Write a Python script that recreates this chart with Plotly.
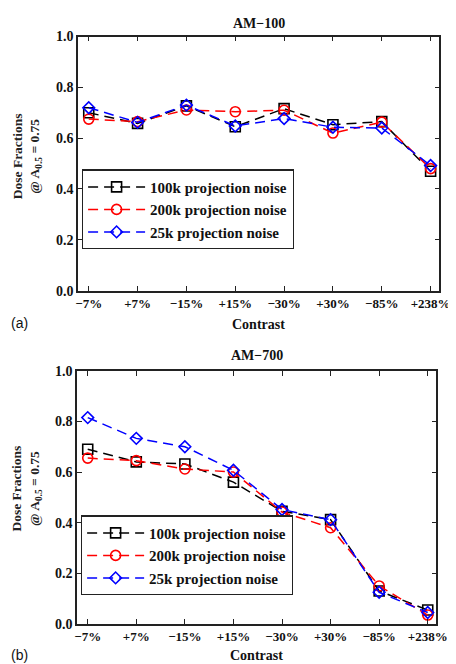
import plotly.graph_objects as go

categories = ["−7%", "+7%", "−15%", "+15%", "−30%", "+30%", "−85%", "+238%"]
series_names = ["100k projection noise", "200k projection noise", "25k projection noise"]

am100_100k = [0.70, 0.658, 0.727, 0.645, 0.716, 0.653, 0.665, 0.470]
am100_200k = [0.675, 0.665, 0.711, 0.704, 0.71, 0.620, 0.663, 0.480]
am100_25k = [0.720, 0.662, 0.730, 0.648, 0.677, 0.643, 0.640, 0.492]

am700_100k = [0.690, 0.640, 0.632, 0.560, 0.445, 0.412, 0.130, 0.055]
am700_200k = [0.655, 0.645, 0.612, 0.600, 0.442, 0.380, 0.150, 0.035]
am700_25k = [0.815, 0.733, 0.700, 0.607, 0.452, 0.412, 0.125, 0.045]

yticks = [0.0, 0.2, 0.4, 0.6, 0.8, 1.0]
ytick_text = ["0.0", "0.2", "0.4", "0.6", "0.8", "1.0"]

colors = ["black", "red", "blue"]
symbols = ["square-open", "circle-open", "diamond-open"]
sizes = [10, 10, 9]

W, H = 456, 664
FONT = "Liberation Serif, Times New Roman, serif"

def px(x):
    return x / W

def py(y):
    return 1 - y / H

fig = go.Figure()

panels = [
    ("x", "y", "legend", [am100_100k, am100_200k, am100_25k]),
    ("x2", "y2", "legend2", [am700_100k, am700_200k, am700_25k]),
]

for xa, ya, lg, data in panels:
    for i, vals in enumerate(data):
        fig.add_trace(go.Scatter(
            x=list(range(len(categories))), y=vals,
            xaxis=xa, yaxis=ya, legend=lg,
            mode="lines+markers", name="<b>" + series_names[i] + "</b>",
            line=dict(color=colors[i], width=1.5, dash="10px,6px"),
            marker=dict(symbol=symbols[i], size=sizes[i], color=colors[i],
                        line=dict(width=1.6, color=colors[i])),
        ))

axis_common = dict(
    showline=True, linecolor="#222", linewidth=1.5, mirror="ticks",
    ticks="inside", ticklen=5, tickwidth=1.2, tickcolor="#222",
    showgrid=False, zeroline=False,
    tickfont=dict(family=FONT, size=14, color="#111"),
)

xaxis_common = dict(axis_common, tickmode="array",
                    tickvals=list(range(len(categories))),
                    ticktext=["<b>" + c + "</b>" for c in categories],
                    range=[-0.22, 7.18])
xaxis_common["tickfont"] = dict(family=FONT, size=13, color="#111")
yaxis_common = dict(axis_common, tickmode="array", tickvals=yticks,
                    ticktext=["<b>" + t + "</b>" for t in ytick_text], range=[0, 1.0])

legend_common = dict(
    bgcolor="white", bordercolor="#222", borderwidth=1.2,
    font=dict(family=FONT, size=15, color="#111"),
    xanchor="left", yanchor="top", itemwidth=57, tracegroupgap=0,
)

fig.update_layout(
    width=W, height=H,
    margin=dict(l=0, r=0, t=0, b=0),
    plot_bgcolor="white", paper_bgcolor="white",
    xaxis=dict(xaxis_common, domain=[px(70), px(442)], anchor="y"),
    yaxis=dict(yaxis_common, domain=[py(282), py(22)], anchor="x"),
    xaxis2=dict(xaxis_common, domain=[px(69), px(439)], anchor="y2"),
    yaxis2=dict(yaxis_common, domain=[py(623), py(364)], anchor="x2"),
    legend=dict(legend_common, x=px(74), y=py(158)),
    legend2=dict(legend_common, x=px(73), y=py(512)),
)

ann = []
for title, ty, cx, cy, ly, lab, laby in [
    ("AM−100", 9, 256, 317, 145, "(a)", 315),
    ("AM−700", 348, 254, 655, 485, "(b)", 655),
]:
    common = dict(xref="paper", yref="paper", showarrow=False,
                  xanchor="center", yanchor="middle")
    ann.append(dict(common, text="<b>" + title + "</b>", x=px(cx), y=py(ty),
                    font=dict(family=FONT, size=14, color="#111")))
    ann.append(dict(common, text="<b>Contrast</b>", x=px(cx), y=py(cy),
                    font=dict(family=FONT, size=14, color="#111")))
    ann.append(dict(common, text="<b>Dose Fractions</b><br><b>@ A<sub>0.5</sub> = 0.75</b>",
                    x=px(17), y=py(ly), textangle=-90,
                    font=dict(family=FONT, size=13.5, color="#222")))
    ann.append(dict(common, text=lab, x=px(10), y=py(laby),
                    font=dict(family="Liberation Sans", size=14, color="#111")))

fig.update_layout(annotations=ann)

fig.write_html("out.html")
